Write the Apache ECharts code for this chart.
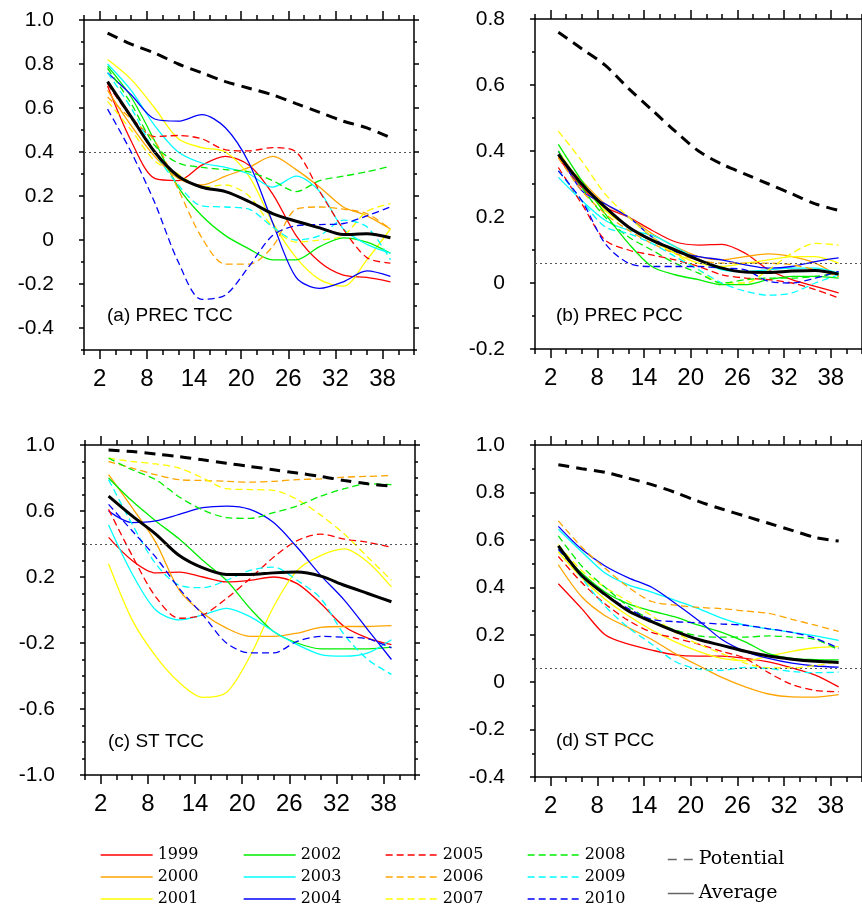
<!DOCTYPE html>
<html lang="en">
<head>
<meta charset="UTF-8">
<title>TCC / PCC by lead day</title>
<script src="https://cdn.jsdelivr.net/npm/echarts@6/dist/echarts.min.js"></script>
<style>
    html, body { margin: 0; padding: 0; background: #fff; }
    #main { width: 862px; height: 907px; }
</style>
</head>
<body>
<div id="main"></div>
<script type="text/javascript">
    // lead days and tick labels
    const leads = [3, 6, 9, 12, 15, 18, 21, 24, 27, 30, 33, 36, 39];
    const xMajor = [2, 8, 14, 20, 26, 32, 38];
    const years = ['1999', '2000', '2001', '2002', '2003', '2004',
                   '2005', '2006', '2007', '2008', '2009', '2010'];

    // (a) PREC TCC, one row per year
    const precTcc = [
        [0.70, 0.45, 0.28, 0.27, 0.34, 0.38, 0.34, 0.21, 0.02, -0.10, -0.16, -0.17, -0.19],
        [0.68, 0.52, 0.38, 0.28, 0.25, 0.29, 0.33, 0.38, 0.32, 0.24, 0.15, 0.11, 0.05],
        [0.82, 0.73, 0.60, 0.46, 0.42, 0.40, 0.29, 0.08, -0.08, -0.18, -0.21, -0.09, 0.05],
        [0.79, 0.65, 0.45, 0.24, 0.11, 0.02, -0.04, -0.09, -0.09, -0.03, 0.01, -0.01, -0.06],
        [0.80, 0.68, 0.52, 0.40, 0.35, 0.33, 0.30, 0.24, 0.29, 0.22, 0.05, -0.02, -0.06],
        [0.76, 0.66, 0.55, 0.54, 0.57, 0.51, 0.35, 0.08, -0.17, -0.22, -0.19, -0.14, -0.165],
        [0.71, 0.56, 0.47, 0.475, 0.46, 0.41, 0.405, 0.42, 0.40, 0.22, 0.05, -0.08, -0.105],
        [0.65, 0.55, 0.45, 0.23, 0.01, -0.11, -0.11, -0.03, 0.14, 0.15, 0.14, 0.12, 0.05],
        [0.63, 0.50, 0.36, 0.30, 0.24, 0.25, 0.20, 0.06, -0.01, 0.0, 0.02, 0.13, 0.165],
        [0.78, 0.62, 0.43, 0.35, 0.33, 0.32, 0.31, 0.27, 0.22, 0.27, 0.29, 0.31, 0.335],
        [0.76, 0.60, 0.40, 0.25, 0.155, 0.15, 0.14, 0.06, 0.0, 0.02, 0.09, 0.06, -0.09],
        [0.595, 0.40, 0.17, -0.10, -0.27, -0.25, -0.12, 0.02, 0.065, 0.07, 0.075, 0.11, 0.15]
    ];
    const precTccAvg = [0.72, 0.56, 0.40, 0.29, 0.24, 0.22, 0.175, 0.12, 0.085, 0.055, 0.025, 0.028, 0.01];
    const precTccPot = [0.94, 0.89, 0.85, 0.80, 0.76, 0.72, 0.69, 0.66, 0.62, 0.58, 0.54, 0.51, 0.465];

    // (b) PREC PCC
    const precPcc = [
        [0.38, 0.29, 0.23, 0.20, 0.16, 0.125, 0.115, 0.117, 0.09, 0.04, 0.01, -0.01, -0.03],
        [0.38, 0.31, 0.24, 0.20, 0.15, 0.11, 0.08, 0.07, 0.08, 0.088, 0.08, 0.06, 0.02],
        [0.40, 0.30, 0.22, 0.17, 0.13, 0.09, 0.06, 0.05, 0.06, 0.07, 0.08, 0.08, 0.06],
        [0.42, 0.31, 0.21, 0.12, 0.05, 0.025, 0.01, -0.005, -0.005, 0.01, 0.02, 0.02, 0.015],
        [0.32, 0.25, 0.19, 0.16, 0.145, 0.11, 0.07, 0.04, 0.035, 0.04, 0.045, 0.045, 0.03],
        [0.40, 0.28, 0.24, 0.20, 0.14, 0.095, 0.08, 0.07, 0.055, 0.045, 0.05, 0.065, 0.076],
        [0.35, 0.24, 0.13, 0.10, 0.085, 0.07, 0.05, 0.025, 0.015, 0.01, 0.0, -0.02, -0.045],
        [0.38, 0.28, 0.21, 0.16, 0.12, 0.09, 0.07, 0.06, 0.06, 0.06, 0.055, 0.04, 0.02],
        [0.46, 0.37, 0.27, 0.20, 0.14, 0.09, 0.04, 0.0, 0.0, 0.04, 0.09, 0.12, 0.115],
        [0.40, 0.29, 0.20, 0.14, 0.10, 0.06, 0.03, 0.0, 0.01, 0.015, 0.015, 0.02, 0.03],
        [0.34, 0.25, 0.17, 0.15, 0.12, 0.08, 0.04, 0.0, -0.025, -0.037, -0.03, 0.0, 0.025],
        [0.34, 0.25, 0.12, 0.06, 0.05, 0.05, 0.05, 0.045, 0.04, 0.005, 0.0, 0.015, 0.035]
    ];
    const precPccAvg = [0.39, 0.30, 0.23, 0.17, 0.13, 0.10, 0.07, 0.045, 0.033, 0.032, 0.036, 0.038, 0.027];
    const precPccPot = [0.76, 0.71, 0.66, 0.59, 0.525, 0.46, 0.40, 0.36, 0.33, 0.30, 0.27, 0.24, 0.22];

    // (c) ST TCC
    const stTcc = [
        [0.44, 0.30, 0.225, 0.23, 0.20, 0.17, 0.18, 0.20, 0.16, 0.04, -0.10, -0.17, -0.21],
        [0.82, 0.62, 0.41, 0.12, -0.02, -0.11, -0.16, -0.16, -0.14, -0.105, -0.10, -0.10, -0.095],
        [0.28, -0.06, -0.28, -0.44, -0.53, -0.50, -0.28, 0.02, 0.24, 0.33, 0.37, 0.29, 0.14],
        [0.80, 0.66, 0.54, 0.43, 0.30, 0.18, 0.01, -0.13, -0.20, -0.235, -0.235, -0.235, -0.225],
        [0.515, 0.22, 0.0, -0.06, -0.03, 0.01, -0.04, -0.13, -0.21, -0.27, -0.28, -0.26, -0.18],
        [0.60, 0.53, 0.54, 0.58, 0.62, 0.63, 0.61, 0.53, 0.38, 0.21, 0.06, -0.12, -0.30],
        [0.61, 0.33, 0.08, -0.05, -0.03, 0.07, 0.19, 0.32, 0.42, 0.46, 0.43, 0.41, 0.38],
        [0.90, 0.86, 0.82, 0.79, 0.785, 0.78, 0.775, 0.78, 0.79, 0.795, 0.805, 0.81, 0.815],
        [0.92, 0.90, 0.885, 0.86, 0.80, 0.735, 0.73, 0.725, 0.67, 0.575, 0.46, 0.32, 0.18],
        [0.92, 0.85, 0.79, 0.685, 0.606, 0.56, 0.555, 0.59, 0.63, 0.69, 0.735, 0.765, 0.76],
        [0.79, 0.52, 0.28, 0.15, 0.135, 0.18, 0.24, 0.26, 0.18, 0.07, -0.15, -0.30, -0.39],
        [0.64, 0.48, 0.32, 0.13, -0.03, -0.20, -0.26, -0.26, -0.19, -0.16, -0.165, -0.175, -0.23]
    ];
    const stTccAvg = [0.69, 0.57, 0.46, 0.33, 0.255, 0.215, 0.215, 0.225, 0.23, 0.205, 0.15, 0.10, 0.05];
    const stTccPot = [0.97, 0.96, 0.945, 0.93, 0.91, 0.89, 0.87, 0.85, 0.83, 0.81, 0.785, 0.765, 0.75];

    // (d) ST PCC
    const stPcc = [
        [0.415, 0.31, 0.20, 0.16, 0.135, 0.115, 0.11, 0.11, 0.10, 0.085, 0.06, 0.03, -0.02],
        [0.495, 0.36, 0.28, 0.23, 0.18, 0.12, 0.07, 0.02, -0.02, -0.05, -0.062, -0.063, -0.053],
        [0.55, 0.44, 0.35, 0.28, 0.22, 0.17, 0.13, 0.10, 0.09, 0.11, 0.13, 0.145, 0.15],
        [0.56, 0.46, 0.38, 0.33, 0.30, 0.275, 0.24, 0.21, 0.17, 0.12, 0.10, 0.095, 0.094],
        [0.645, 0.55, 0.46, 0.41, 0.38, 0.345, 0.31, 0.27, 0.24, 0.225, 0.21, 0.195, 0.176],
        [0.657, 0.56, 0.49, 0.44, 0.40, 0.333, 0.26, 0.18, 0.13, 0.10, 0.08, 0.068, 0.063],
        [0.53, 0.42, 0.33, 0.26, 0.21, 0.186, 0.16, 0.13, 0.10, 0.04, -0.01, -0.035, -0.04],
        [0.68, 0.57, 0.48, 0.40, 0.34, 0.325, 0.315, 0.31, 0.30, 0.29, 0.265, 0.24, 0.214],
        [0.58, 0.47, 0.40, 0.34, 0.28, 0.21, 0.16, 0.12, 0.08, 0.06, 0.06, 0.07, 0.087],
        [0.617, 0.49, 0.40, 0.32, 0.26, 0.22, 0.195, 0.19, 0.19, 0.195, 0.19, 0.18, 0.136],
        [0.575, 0.44, 0.32, 0.23, 0.16, 0.087, 0.055, 0.05, 0.062, 0.057, 0.045, 0.04, 0.042],
        [0.56, 0.45, 0.37, 0.31, 0.265, 0.255, 0.25, 0.245, 0.24, 0.225, 0.21, 0.185, 0.143]
    ];
    const stPccAvg = [0.575, 0.45, 0.37, 0.30, 0.255, 0.214, 0.18, 0.155, 0.13, 0.11, 0.097, 0.088, 0.083];
    const stPccPot = [0.917, 0.90, 0.885, 0.86, 0.833, 0.80, 0.762, 0.73, 0.70, 0.67, 0.64, 0.61, 0.595];

    // y tick labels of each panel
    const yMajorA = [-0.4, -0.2, 0, 0.2, 0.4, 0.6, 0.8, 1.0];
    const yMajorB = [-0.2, 0, 0.2, 0.4, 0.6, 0.8];
    const yMajorC = [-1.0, -0.6, -0.2, 0.2, 0.6, 1.0];
    const yMajorD = [-0.4, -0.2, 0, 0.2, 0.4, 0.6, 0.8, 1.0];

    // reference (dotted) lines
    const refLines = [0.4, 0.06, 0.4, 0.06];

    const yearColors = ['#ff0000', '#ffa500', '#ffff00', '#00ee00', '#00ffff', '#0000ff',
                        '#ff0000', '#ffa500', '#ffff00', '#00ee00', '#00ffff', '#0000ff'];

    const panels = [
        { title: '(a) PREC TCC', rows: precTcc, avg: precTccAvg, pot: precTccPot, yMin: -0.5, yMax: 1.0, yMajor: yMajorA,
          box: [84, 20, 330, 330], titlePos: [107, 306] },
        { title: '(b) PREC PCC', rows: precPcc, avg: precPccAvg, pot: precPccPot, yMin: -0.2, yMax: 0.8, yMajor: yMajorB,
          box: [535, 19, 330, 330], titlePos: [556, 306] },
        { title: '(c) ST TCC', rows: stTcc, avg: stTccAvg, pot: stTccPot, yMin: -1.0, yMax: 1.0, yMajor: yMajorC,
          box: [85, 445, 330, 330], titlePos: [108, 732] },
        { title: '(d) ST PCC', rows: stPcc, avg: stPccAvg, pot: stPccPot, yMin: -0.4, yMax: 1.0, yMajor: yMajorD,
          box: [535, 445, 330, 332], titlePos: [556, 731] }
    ];

    const sansFont = '"Liberation Sans", Arial, sans-serif';
    const black = { color: '#000', width: 1.5 };

    function fmt(v) {
        return Math.abs(v) < 1e-9 ? '0' : v.toFixed(1);
    }

    // axes with long ticks and labels
    function majorX(gridIndex, position) {
        const bottom = position === 'bottom';
        return {
            type: 'value', gridIndex, position, min: 0, max: 42,
            axisLine: { show: true, onZero: false, lineStyle: black },
            axisTick: { show: true, length: 9, customValues: xMajor, lineStyle: black },
            axisLabel: { show: bottom, customValues: xMajor, margin: 17, fontSize: 24,
                         color: '#000', fontFamily: sansFont },
            splitLine: { show: false }
        };
    }
    function majorY(gridIndex, position, p) {
        const left = position === 'left';
        return {
            type: 'value', gridIndex, position, min: p.yMin, max: p.yMax,
            axisLine: { show: true, onZero: false, lineStyle: black },
            axisTick: { show: true, length: 5, customValues: p.yMajor, lineStyle: black },
            axisLabel: { show: left, customValues: p.yMajor, margin: 30, fontSize: 21,
                         color: '#000', fontFamily: sansFont, formatter: fmt,
                         showMinLabel: true, showMaxLabel: true },
            splitLine: { show: false }
        };
    }
    // axes with short ticks only (second grid on the same spot)
    function minorX(gridIndex, position) {
        return {
            type: 'value', gridIndex, position, min: 0, max: 42, interval: 2,
            axisLine: { show: false, onZero: false },
            axisTick: { show: true, length: 5, lineStyle: black },
            axisLabel: { show: false }, splitLine: { show: false }
        };
    }
    function minorY(gridIndex, position, p) {
        return {
            type: 'value', gridIndex, position, min: p.yMin, max: p.yMax, interval: 0.1,
            axisLine: { show: false, onZero: false },
            axisTick: { show: true, length: 3, lineStyle: black },
            axisLabel: { show: false }, splitLine: { show: false }
        };
    }

    const grid = [], xAxis = [], yAxis = [], series = [], title = [];

    panels.forEach((p, k) => {
        const [left, top, width, height] = p.box;
        grid.push({ left, top, width, height });
        grid.push({ left, top, width, height });
        const gMain = 2 * k, gMinor = 2 * k + 1;

        xAxis.push(majorX(gMain, 'bottom'), majorX(gMain, 'top'),
                   minorX(gMinor, 'bottom'), minorX(gMinor, 'top'));
        yAxis.push(majorY(gMain, 'left', p), majorY(gMain, 'right', p),
                   minorY(gMinor, 'left', p), minorY(gMinor, 'right', p));

        title.push({
            text: p.title, left: p.titlePos[0], top: p.titlePos[1], padding: 0,
            textStyle: { fontFamily: sansFont, fontSize: 19, fontWeight: 'normal', color: '#000' }
        });

        const ax = { xAxisIndex: 4 * k, yAxisIndex: 4 * k };

        p.rows.forEach((row, i) => {
            series.push(Object.assign({
                name: years[i], type: 'line', symbol: 'none', smooth: 0.3, silent: true,
                data: leads.map((x, j) => [x, row[j]]),
                itemStyle: { color: yearColors[i] },
                lineStyle: { color: yearColors[i], width: 1.3, type: i >= 6 ? [7, 4] : 'solid' },
                z: 2
            }, ax));
        });

        series.push(Object.assign({
            name: 'Average', type: 'line', symbol: 'none', smooth: 0.3, silent: true,
            data: leads.map((x, j) => [x, p.avg[j]]),
            itemStyle: { color: '#000' },
            lineStyle: { color: '#000', width: 3 },
            markLine: {
                silent: true, symbol: 'none', label: { show: false },
                lineStyle: { color: '#555', width: 1, type: [2, 3] },
                data: [{ yAxis: refLines[k] }]
            },
            z: 3
        }, ax));

        series.push(Object.assign({
            name: 'Potential', type: 'line', symbol: 'none', smooth: 0.3, silent: true,
            data: leads.map((x, j) => [x, p.pot[j]]),
            itemStyle: { color: '#000' },
            lineStyle: { color: '#000', width: 3, type: [11, 7] },
            z: 3
        }, ax));
    });

    // legend: lines only, no marker in the middle
    const legendText = { fontFamily: '"DejaVu Serif", serif', fontSize: 16, color: '#000', lineHeight: 16 };
    const hideMarker = { opacity: 0 };
    const legendCols = [100, 243, 385, 527];
    const legend = legendCols.map((x, c) => ({
        orient: 'vertical', left: x, top: 847, padding: 0,
        itemWidth: 52, itemHeight: 8, itemGap: 6,
        textStyle: legendText, selectedMode: false,
        itemStyle: hideMarker,
        lineStyle: { width: 1.3 },
        data: years.slice(3 * c, 3 * c + 3)
    }));
    legend.push({
        orient: 'vertical', left: 667, top: 850, padding: 0,
        itemWidth: 26, itemHeight: 8, itemGap: 15,
        textStyle: Object.assign({}, legendText, { fontSize: 19, lineHeight: 19 }),
        selectedMode: false,
        itemStyle: hideMarker,
        data: [
            { name: 'Potential', lineStyle: { color: '#666', width: 1.5, type: [9, 7] } },
            { name: 'Average', lineStyle: { color: '#666', width: 1.5, type: 'solid' } }
        ]
    });

    const myChart = echarts.init(document.getElementById('main'), null, { renderer: 'canvas' });
    const option = {
        animation: false,
        backgroundColor: '#fff',
        title: title,
        legend: legend,
        grid: grid,
        xAxis: xAxis,
        yAxis: yAxis,
        series: series
    };
    option && myChart.setOption(option);
</script>
</body>
</html>
